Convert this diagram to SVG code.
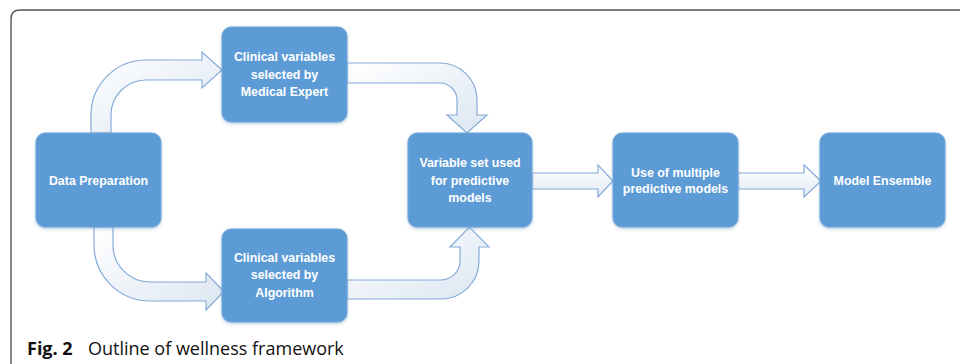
<svg xmlns="http://www.w3.org/2000/svg" width="960" height="364" viewBox="0 0 960 364">
<defs>
<linearGradient id="ag" x1="0" y1="0" x2="1" y2="1">
<stop offset="0" stop-color="#ffffff"/>
<stop offset="1" stop-color="#dce6f2"/>
</linearGradient>
<linearGradient id="ah" x1="0" y1="0" x2="0" y2="1">
<stop offset="0" stop-color="#ffffff"/>
<stop offset="1" stop-color="#e3ebf5"/>
</linearGradient>
<filter id="sh" x="-10%" y="-10%" width="120%" height="125%">
<feDropShadow dx="0" dy="1.5" stdDeviation="1.5" flood-color="#6a8fb8" flood-opacity="0.45"/>
</filter>
</defs>
<style>
.box{fill:#5b9bd5;stroke:#6ea6da;stroke-width:1;filter:url(#sh)}
.arr{fill:url(#ag);stroke:#86acd9;stroke-width:1.2;stroke-linejoin:miter}
.arh{fill:url(#ah);stroke:#86acd9;stroke-width:1.2}
.lbl{font-family:"Liberation Sans",Arial,sans-serif;font-weight:bold;font-size:12.4px;fill:#ffffff;text-anchor:middle}
.cap{font-family:"Open Sans","Liberation Sans",sans-serif;font-size:18px;fill:#111111}
</style>
<rect x="0" y="0" width="960" height="364" fill="#ffffff"/>
<path d="M11,364 L11,19 Q11,10 20,10 L960,10" fill="none" stroke="#555555" stroke-width="1.4"/>
<g id="connectors">
<path class="arr" d="M91,133 L91,115 A55,55 0 0 1 146,60 L202,60 L202,52 L222,70 L202,88 L202,80 L146,80 A35,35 0 0 0 111,115 L111,133 Z"/>
<path class="arr" d="M94,227 L94,245 A56,56 0 0 0 150,301 L206,301 L206,310 L224,291.5 L206,273 L206,282 L150,282 A37,37 0 0 1 113,245 L113,227 Z"/>
<path class="arr" d="M347,63 L440,63 A37,37 0 0 1 477,100 L477,115 L487,115 L467,133 L447,115 L457,115 L457,100 A17,17 0 0 0 440,83 L347,83 Z"/>
<path class="arr" d="M347,280 L441,280 A19,19 0 0 0 460,261 L460,247 L450,247 L469.5,227 L489,247 L479,247 L479,261 A38,38 0 0 1 441,299 L347,299 Z"/>
<path class="arh" d="M532,173 L598,173 L598,165 L613,181 L598,197 L598,189 L532,189 Z"/>
<path class="arh" d="M738,173 L804,173 L804,165 L821,181 L804,197 L804,189 L738,189 Z"/>
</g>
<g id="data-preparation">
<rect class="box" x="36" y="133" width="125" height="94" rx="9"/>
<text class="lbl" x="98.5" y="185">Data Preparation</text>
</g>
<g id="clinical-expert">
<rect class="box" x="222" y="27" width="125" height="95" rx="9"/>
<text class="lbl" x="284.5" y="61">Clinical variables</text>
<text class="lbl" x="284.5" y="79">selected by</text>
<text class="lbl" x="284.5" y="96">Medical Expert</text>
</g>
<g id="clinical-algorithm">
<rect class="box" x="222" y="229" width="125" height="93" rx="9"/>
<text class="lbl" x="284.5" y="262">Clinical variables</text>
<text class="lbl" x="284.5" y="279">selected by</text>
<text class="lbl" x="284.5" y="297">Algorithm</text>
</g>
<g id="variable-set">
<rect class="box" x="408" y="133" width="124" height="94" rx="9"/>
<text class="lbl" x="470" y="167">Variable set used</text>
<text class="lbl" x="470" y="185">for predictive</text>
<text class="lbl" x="470" y="202">models</text>
</g>
<g id="multiple-models">
<rect class="box" x="613" y="133" width="125" height="94" rx="9"/>
<text class="lbl" x="675.5" y="177">Use of multiple</text>
<text class="lbl" x="675.5" y="193">predictive models</text>
</g>
<g id="model-ensemble">
<rect class="box" x="820" y="133" width="125" height="94" rx="9"/>
<text class="lbl" x="882.5" y="185">Model Ensemble</text>
</g>
<text class="cap" x="27" y="355"><tspan font-weight="bold">Fig. 2</tspan><tspan x="88">Outline of wellness framework</tspan></text>
</svg>
